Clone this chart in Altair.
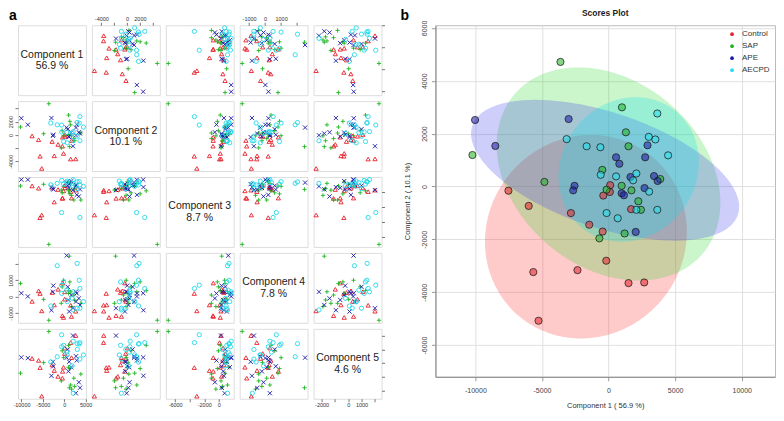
import numpy as np
import pandas as pd
import altair as alt

FONT = "Liberation Sans"
GROUPS = ["Control", "SAP", "APE", "AECPD"]
PCT = [56.9, 10.1, 8.7, 7.8, 4.6]

# (comp1, comp2, comp3, comp4, comp5) per sample
CONTROL = [
    (123, 49, 600, 300, 1100), (98, -209, 900, -150, 700), (-393, -344, -760, 830, -600),
    (-7518, -160, 856, -282, 340), (-5995, -736, 558, 355, 200), (-2826, -1006, 700, 254, -131),
    (-1450, -1448, 382, 450, -970), (-442, -1706, -800, -1150, -1100), (1695, -859, -760, -1200, 400),
    (-172, -2810, 200, -1260, -300), (-2334, -3166, -1286, -500, -542), (-5651, -3239, -3372, 195, -326),
    (1499, -3656, 100, -520, 1500), (2678, -3632, 300, -880, 2014), (-5258, -5080, -3018, -860, -2414),
]
SAP = [
    (-3612, 4712, -6939, -1430, 2316), (-10221, 1190, 856, 808, -736), (1007, 2994, 200, 370, 1300),
    (1302, 2049, -200, 900, -400), (1499, 1521, 1200, 300, -1600), (-4816, 172, 1078, -163, 34),
    (-467, 626, -58, 600, 900), (983, 25, 1400, 200, -300), (1720, -147, -400, -600, -1900),
    (-147, -123, 800, 1000, 400), (2236, -560, -1020, 100, -1100), (2432, -883, 500, -200, -1700),
    (3882, 282, -1020, -400, -800), (1204, -1779, 400, 2460, -1800), (-688, -1963, 300, -400, -1300),
]
APE = [
    (-10025, 2515, 1696, 212, 416), (-8501, 1534, 1696, 16, 372), (-2998, 2552, 700, -820, -924),
    (-2555, 25, 380, 671, -232), (-2654, -147, 500, 300, 100), (565, 1104, 1300, 2500, 400),
    (811, 859, 900, 600, 1000), (2924, 1558, -330, 200, 200), (2752, 1104, 1000, -300, 500),
    (1646, 356, 1500, 100, -300), (3415, 393, -540, -100, -1400), (3686, 209, 400, -500, -1800),
    (2703, -61, 800, 300, -2200), (983, -258, 600, -200, -600), (1155, -331, 1100, -900, 100),
    (2039, -1718, 300, -700, 2014),
]
AECPD = [
    (3661, 2761, -3349, 500, 1500), (3022, 1877, 1400, 2024, 1424), (3514, 1779, 1434, 1000, 1400),
    (4472, 1178, 800, -300, 600), (-1646, 1521, 1200, 1881, 466), (-614, 1485, -2690, 700, 2072),
    (-3145, 1791, 1000, -562, 82), (-590, 442, 1600, 200, 1200), (565, 380, 1300, 400, 800),
    (2089, 491, 1700, 300, 1600), (1843, 233, 900, -100, -200), (3047, -196, 500, -700, 1000),
    (-147, -1006, 1100, 900, 1300), (688, -1202, 1500, -300, 600), (2089, -883, 1200, -800, -2200),
    (3661, -883, 1000, -700, 300),
]

# confidence ellipse parameters (centre, half-extent, correlation)
ELL_CX = [-1700, 0, -258, 1512]
ELL_CY = [-1900, 472, 614, 645]
ELL_RX = [7580, 8400, 10066, 5273]
ELL_RY = [3850, 4033, 2664, 2733]
ELL_RHO = [0.05, -0.27, -0.52, 0.1]

MARK_COLORS = ["#E8202A", "#1FB41F", "#1A1AAA", "#22D8E8"]
DOT_COLORS = ["#E8202A", "#1FB41F", "#1A1AAA", "#22E0EE"]
ELL_COLORS = ["#FF2A2A", "#2ED62E", "#3A3AF0", "#00E0F0"]
SHAPES = ["triangle-up", "M-1,0H1M0,-1V1", "M-1,-1L1,1M-1,1L1,-1", "circle"]

TICKS = {1: [-10000, -5000, 0, 5000], 2: [-4000, -2000, 0, 2000, 4000],
         3: [-6000, -4000, -2000, 0], 4: [-1000, 0, 1000, 2000], 5: [-2000, -1000, 0, 1000, 2000]}
LABELS = {1: [-10000, -5000, 0, 5000], 2: [-4000, 0, 2000], 3: [-6000, -2000, 0],
          4: [-1000, 0, 1000], 5: [-2000, 0, 1000]}

SC_XT = [-10000, -5000, 0, 5000, 10000]
SC_YT = [-6000, -4000, -2000, 0, 2000, 4000, 6000]
SC_XDOM = [-13000, 12500]
SC_YDOM = [-7200, 6100]

rows = []
for g, pts in zip(GROUPS, [CONTROL, SAP, APE, AECPD]):
    for p in pts:
        rows.append({"group": g, "c1": p[0], "c2": p[1], "c3": p[2], "c4": p[3], "c5": p[4]})
df = pd.DataFrame(rows)

DOM = {}
for k in range(1, 6):
    lo, hi = df[f"c{k}"].min(), df[f"c{k}"].max()
    pad = 0.04 * (hi - lo)
    DOM[k] = [float(lo - pad), float(hi + pad)]

one = pd.DataFrame({"k": [0]})
W, H = 68, 70


def mk_axis(comp, orient, labels_on):
    kw = dict(orient=orient, values=TICKS[comp], domain=False, grid=False, tickSize=3,
              tickColor="#555", tickWidth=0.8, title=None, labels=labels_on)
    if labels_on:
        arr = ",".join(str(v) for v in LABELS[comp])
        kw.update(labelExpr=f"indexof([{arr}], datum.value) >= 0 ? '' + datum.value : ''",
                  labelFontSize=5.5, labelColor="#333", labelPadding=1, labelFont=FONT,
                  labelOverlap=False, labelFlush=False)
    if orient in ("left", "right"):
        kw.update(labelAngle=270, labelAlign="center", labelBaseline="bottom")
    return alt.Axis(**kw)


def panel(i, j):
    xa = None
    ya = None
    if i == 1 and j in (2, 4):
        xa = mk_axis(j, "top", True)
    if i == 5 and j in (1, 3, 5):
        xa = mk_axis(j, "bottom", True)
    if j == 1 and i in (2, 4):
        ya = mk_axis(i, "left", True)
    if j == 5 and i in (1, 3, 5):
        ya = mk_axis(i, "right", False)
    base = alt.Chart(df).mark_point(filled=False, size=18, strokeWidth=0.9,
                                    opacity=0 if i == j else 1).encode(
        x=alt.X(f"c{j}:Q", scale=alt.Scale(domain=DOM[j], nice=False, zero=False), axis=xa),
        y=alt.Y(f"c{i}:Q", scale=alt.Scale(domain=DOM[i], nice=False, zero=False), axis=ya),
        color=alt.Color("group:N", scale=alt.Scale(domain=GROUPS, range=MARK_COLORS), legend=None),
        shape=alt.Shape("group:N", scale=alt.Scale(domain=GROUPS, range=SHAPES), legend=None),
    )
    layers = [base]
    if i == j:
        layers.append(alt.Chart(one).mark_text(text=f"Component {i}", fontSize=10.5, font=FONT,
                                               color="#222", baseline="middle").encode(
            x=alt.value(W / 2), y=alt.value(H / 2 - 5.5)))
        layers.append(alt.Chart(one).mark_text(text=f"{PCT[i-1]} %", fontSize=10.5, font=FONT,
                                               color="#222", baseline="middle").encode(
            x=alt.value(W / 2), y=alt.value(H / 2 + 6)))
    if i == 1 and j == 1:
        layers.append(alt.Chart(one).mark_text(text="a", fontSize=14, fontWeight="bold", font=FONT,
                                               color="#000", align="left", baseline="alphabetic").encode(
            x=alt.value(-9), y=alt.value(-5)))
    return alt.layer(*layers).properties(width=W, height=H)


matrix = alt.concat(*[panel(i, j) for i in range(1, 6) for j in range(1, 6)],
                    columns=5, spacing=6, bounds="flush")

# ---- scores plot ----
SW, SH = 340, 352
SX = alt.Scale(domain=SC_XDOM, nice=False, zero=False)
SY = alt.Scale(domain=SC_YDOM, nice=False, zero=False)
XAX = alt.Axis(values=SC_XT, labelExpr="'' + datum.value", title="Component 1 ( 56.9 %)",
               grid=True, gridColor="#DCDCDC", gridWidth=0.9, tickSize=4, tickColor="#999",
               domainColor="#888", labelFontSize=7, labelColor="#444", labelPadding=6,
               labelFont=FONT, titleFont=FONT, titleFontSize=7.5, titleFontWeight="normal",
               titleColor="#333", titlePadding=8, labelFlush=False)
YAX = alt.Axis(values=SC_YT, labelExpr="'' + datum.value", title="Component 2 ( 10.1 %)",
               grid=True, gridColor="#DCDCDC", gridWidth=0.9, tickSize=4, tickColor="#999",
               domainColor="#888", labelFontSize=7, labelColor="#444", labelPadding=4,
               labelAngle=270, labelAlign="center", labelBaseline="bottom",
               labelFont=FONT, titleFont=FONT, titleFontSize=7.5, titleFontWeight="normal",
               titleColor="#333", titlePadding=9, labelFlush=False)

score_layers = []
theta = np.linspace(np.pi, 0, 161)
u = np.cos(theta)
s = np.sqrt(np.clip(1 - u ** 2, 0, None))
for k in range(4):
    rho = ELL_RHO[k]
    edf = pd.DataFrame({
        "x": ELL_CX[k] + ELL_RX[k] * u,
        "yhi": ELL_CY[k] + ELL_RY[k] * (u * rho + s * np.sqrt(1 - rho ** 2)),
        "ylo": ELL_CY[k] + ELL_RY[k] * (u * rho - s * np.sqrt(1 - rho ** 2)),
    })
    score_layers.append(alt.Chart(edf).mark_area(fill=ELL_COLORS[k], fillOpacity=0.25).encode(
        x=alt.X("x:Q", scale=SX, axis=XAX),
        y=alt.Y("yhi:Q", scale=SY, axis=YAX, stack=None),
        y2="ylo:Q"))

score_layers.append(alt.Chart(df).mark_circle(size=52, fillOpacity=0.55, stroke="#1b1b1b",
                                              strokeWidth=0.9, strokeOpacity=0.85).encode(
    x=alt.X("c1:Q", scale=SX, axis=XAX),
    y=alt.Y("c2:Q", scale=SY, axis=YAX),
    color=alt.Color("group:N", scale=alt.Scale(domain=GROUPS, range=DOT_COLORS),
                    legend=alt.Legend(title=None, orient="top-right", offset=5, padding=0,
                                      labelFontSize=8, labelFont=FONT, labelColor="#333",
                                      symbolSize=14, symbolStrokeWidth=0, symbolOpacity=1,
                                      symbolType="circle", rowPadding=4, labelOffset=6))))

score_layers.append(alt.Chart(one).mark_text(text="Scores Plot", fontSize=8.5, fontWeight="bold",
                                             font=FONT, color="#222", baseline="alphabetic").encode(
    x=alt.value(SW / 2), y=alt.value(-9)))
score_layers.append(alt.Chart(one).mark_text(text="b", fontSize=14, fontWeight="bold", font=FONT,
                                             color="#000", align="left", baseline="alphabetic").encode(
    x=alt.value(-35), y=alt.value(-5)))

scores = alt.layer(*score_layers).properties(
    width=SW, height=SH, view=alt.ViewBackground(stroke="#BBBBBB", strokeWidth=1))

chart = alt.hconcat(matrix, scores, spacing=14).resolve_scale(
    color="independent", shape="independent").resolve_legend(
    color="independent").properties(padding=0).configure_view(
    stroke="#555", strokeWidth=1).configure(font=FONT)

chart.save("out.html", embed_options={"renderer": "svg", "actions": False})
